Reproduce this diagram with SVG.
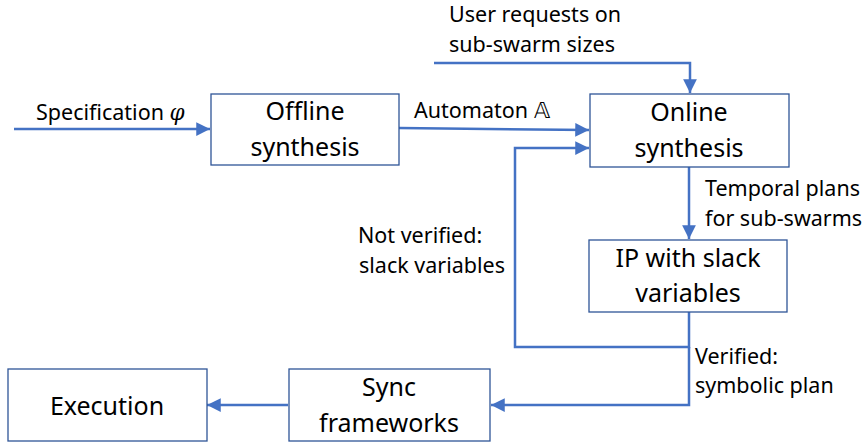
<svg xmlns="http://www.w3.org/2000/svg" width="865" height="444" viewBox="0 0 865 444">
  <style>
    .box { fill: #ffffff; stroke: #2f5597; stroke-width: 1.3; }
    .node { font-family: "Noto Sans", "Liberation Sans", sans-serif; font-size: 25px; fill: #000; text-anchor: middle; }
    .lbl { font-family: "Noto Sans", "Liberation Sans", sans-serif; font-size: 21.5px; fill: #000; }
    .wire { fill: none; stroke: #4472c4; stroke-width: 2.5; }
    .math { font-family: "DejaVu Serif", "Liberation Serif", serif; font-style: italic; }
  </style>
  <defs>
    <marker id="arrow" viewBox="0 0 10 10" refX="10" refY="5" markerWidth="5.5" markerHeight="5.5" orient="auto" markerUnits="strokeWidth">
      <path d="M0,0 L10,5 L0,10 z" fill="#4472c4"/>
    </marker>
  </defs>

  <g id="connectors">
    <path class="wire" d="M14,129 L210,129" marker-end="url(#arrow)"/>
    <path class="wire" d="M399,128 L589,130" marker-end="url(#arrow)"/>
    <path class="wire" d="M434,63 L690,63 L690,93" marker-end="url(#arrow)"/>
    <path class="wire" d="M689,167 L689,239" marker-end="url(#arrow)"/>
    <path class="wire" d="M689,312 L689,347 L515,347 L515,148 L589,148" marker-end="url(#arrow)"/>
    <path class="wire" d="M689,347 L689,405 L491,405" marker-end="url(#arrow)"/>
    <path class="wire" d="M288,405 L207,405" marker-end="url(#arrow)"/>
  </g>

  <g id="labels">
    <text class="lbl" x="36" y="120">Specification <tspan class="math">φ</tspan></text>
    <text class="lbl" x="414" y="118">Automaton 𝔸</text>
    <text class="lbl" x="449" y="22">User requests on</text>
    <text class="lbl" x="449" y="52">sub-swarm sizes</text>
    <text class="lbl" x="705" y="196">Temporal plans</text>
    <text class="lbl" x="705" y="226">for sub-swarms</text>
    <text class="lbl" x="358" y="243">Not verified:</text>
    <text class="lbl" x="359" y="273">slack variables</text>
    <text class="lbl" x="695" y="364">Verified:</text>
    <text class="lbl" x="695" y="393">symbolic plan</text>
  </g>

  <g id="offline">
    <rect class="box" x="211" y="94" width="188" height="71"/>
    <text class="node" x="305" y="120">Offline</text>
    <text class="node" x="305" y="156">synthesis</text>
  </g>
  <g id="online">
    <rect class="box" x="590" y="94" width="199" height="73"/>
    <text class="node" x="689" y="121">Online</text>
    <text class="node" x="689" y="157">synthesis</text>
  </g>
  <g id="ip">
    <rect class="box" x="589" y="240" width="198" height="72"/>
    <text class="node" x="688" y="267">IP with slack</text>
    <text class="node" x="688" y="302">variables</text>
  </g>
  <g id="sync">
    <rect class="box" x="289" y="369" width="201" height="72"/>
    <text class="node" x="389" y="396">Sync</text>
    <text class="node" x="389" y="432">frameworks</text>
  </g>
  <g id="execution">
    <rect class="box" x="8" y="369" width="199" height="72"/>
    <text class="node" x="107" y="415">Execution</text>
  </g>
</svg>
